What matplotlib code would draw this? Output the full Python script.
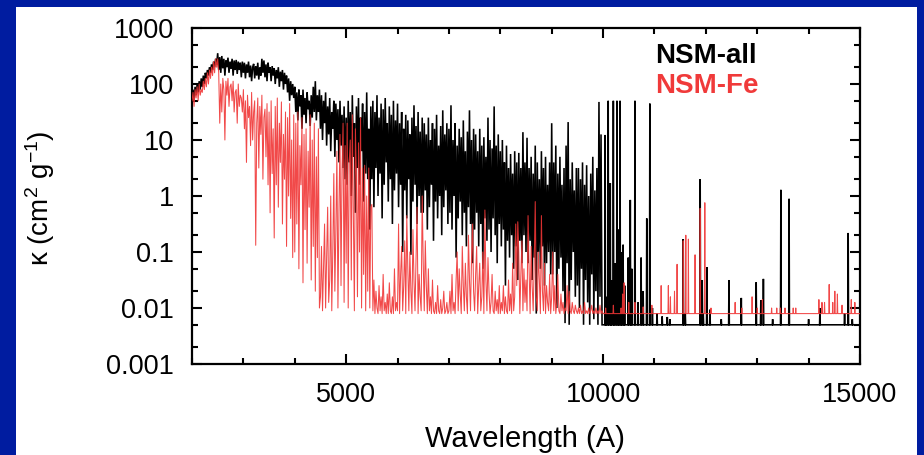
import numpy as np
import matplotlib
matplotlib.use("Agg")
import matplotlib.pyplot as plt
from matplotlib.ticker import FixedLocator, LogLocator, NullFormatter, FixedFormatter
from matplotlib.patches import Rectangle

plt.rcParams['font.family'] = ['Liberation Sans', 'DejaVu Sans']
plt.rcParams['mathtext.fontset'] = 'custom'
plt.rcParams['mathtext.rm'] = 'Liberation Sans'
plt.rcParams['mathtext.it'] = 'Liberation Sans:italic'
plt.rcParams['mathtext.default'] = 'regular'

# ---------------- data (log10 of opacity, cm^2/g) ----------------
grid_start = 2000      # Angstrom, first sample of the dense part
grid_step = 20         # Angstrom between samples

# NSM-all, dense part 2000-10000 A (blocks of 500 A)
all_b1 = [1.75,1.9,1.7,1.95,1.8,2.0,1.85,2.05,1.9,2.1,1.95,2.15,2.0,2.2,2.1,2.25,2.15,2.3,2.2,2.35,2.25,2.4,2.3,2.45,2.35]
all_b2 = [2.55,2.25,2.48,2.2,2.5,2.28,2.45,2.15,2.42,2.3,2.47,2.2,2.4,2.27,2.45,2.15,2.42,2.25,2.43,2.18,2.4,2.25,2.38,2.12,2.4]
all_b3 = [2.2,2.38,2.1,2.35,2.2,2.4,2.12,2.33,2.05,2.3,2.36,2.1,2.32,2.15,2.38,2.08,2.3,2.15,2.45,2.2,2.42,2.12,2.35,2.05,2.38]
all_b4 = [2.2,2.3,2.05,2.32,2.15,2.28,2.0,2.25,2.1,2.3,1.95,2.22,2.05,2.25,1.9,2.2,2.0,2.15,1.85,2.1,1.7,2.05,1.8,2.0,1.75]
all_b5 = [1.95,1.5,1.85,1.35,1.9,1.6,1.8,1.2,1.9,1.45,1.75,1.3,1.85,1.55,1.7,1.25,1.8,1.4,1.95,1.5,2.05,1.35,1.8,1.5,1.9]
all_b6 = [1.2,1.8,1.0,1.7,1.3,1.85,0.9,1.6,1.1,1.75,0.8,1.5,1.2,1.7,0.7,1.65,1.0,1.55,0.6,1.7,0.9,1.45,0.5,1.6,0.3]
all_b7 = [1.4,0.2,1.7,0.6,1.5,0.0,1.8,0.7,1.3,-0.3,1.6,0.5,1.75,0.2,1.4,0.8,1.65,-0.1,1.5,0.4,1.85,0.3,1.2,-0.6,1.6]
all_b8 = [0.3,1.7,-0.2,1.5,0.5,1.8,0.0,1.4,0.4,1.65,-0.4,1.55,0.2,1.75,0.6,1.3,-0.1,1.6,0.3,1.45,-0.5,1.7,0.1,1.35,0.4]
all_b9 = [1.65,-0.2,1.3,0.2,1.5,-1.0,1.2,0.1,1.45,-0.4,1.35,0.3,1.1,-1.05,1.4,-0.1,1.62,0.2,1.25,-0.5,1.5,0.0,1.15,-0.3,1.4]
all_b10 = [-0.3,1.3,0.1,1.1,-0.6,1.4,-0.2,1.0,0.2,1.3,-0.8,1.2,-0.1,1.45,-0.4,0.9,0.0,1.25,-0.7,1.53,-0.2,1.1,0.1,1.3,-0.5]
all_b11 = [1.2,-0.3,1.62,-0.6,1.0,0.0,1.3,-1.1,0.9,-0.4,1.2,-0.1,1.05,-0.7,1.35,-0.3,0.8,-0.9,1.15,-0.2,1.53,-0.5,1.0,-1.2,1.2]
all_b12 = [-0.6,1.1,-0.3,0.8,-0.9,1.2,-0.5,0.9,-1.3,1.05,-0.4,0.7,-0.8,1.4,-0.6,1.0,-1.0,0.85,-0.4,1.6,-0.7,0.9,-1.2,1.1,-0.5]
all_b13 = [0.8,-0.9,1.0,-0.6,0.6,-1.6,0.9,-0.8,0.5,-1.1,0.75,-0.7,0.4,-1.3,0.8,-0.9,0.6,-1.5,0.77,-0.8,0.5,-1.2,1.14,-0.7,0.6]
all_b14 = [-1.0,1.04,-1.2,0.5,-0.8,0.7,-1.5,0.4,-1.1,0.9,-2.1,0.6,-1.0,0.3,-1.3,0.8,-0.9,0.5,-1.6,0.7,-1.2,0.2,-1.0,0.6,-1.4]
all_b15 = [1.3,-1.4,0.6,-1.0,0.9,-2.0,0.4,-1.3,0.7,-1.1,0.2,-1.7,0.5,-2.27,0.9,-1.2,1.32,-2.3,0.3,-1.5,0.6,-1.0,0.1,-1.8,0.5]
all_b16 = [-1.6,0.5,-2.0,0.3,-1.3,0.6,-2.3,0.2,-1.5,0.55,-1.9,0.0,-2.3,0.4,-1.4,0.7,-2.2,0.1,-1.7,0.5,-2.3,1.68,-1.8,1.1,-2.3]
all_end = [-2.3]

# NSM-Fe, dense part 2000-10000 A
fe_b1 = [1.7,1.85,1.6,1.9,1.75,1.95,1.7,2.0,1.8,1.9,1.85,2.05,1.9,2.1,1.95,2.2,2.0,2.25,2.1,2.3,2.15,2.4,2.2,2.45,2.3]
fe_b2 = [2.45,2.2,1.3,2.0,1.5,2.1,1.9,1.0,2.05,1.8,2.1,1.6,1.95,2.0,1.7,2.05,1.5,1.85,1.9,1.3,2.0,1.6,1.8,1.75,1.5]
fe_b3 = [1.9,1.2,1.7,0.6,1.8,1.4,1.6,0.9,1.85,1.0,1.5,1.7,-0.88,1.3,1.75,0.5,1.6,1.1,1.8,0.3,1.4,1.55,0.7,1.65,0.2]
fe_b4 = [1.5,-0.3,1.7,0.4,1.2,-0.75,1.6,0.2,1.75,-0.2,1.3,0.6,1.68,-0.5,1.1,0.3,1.5,-0.9,1.4,0.0,1.65,-0.4,1.0,-1.1,1.45]
fe_b5 = [-1.0,1.3,-0.5,1.5,-1.3,0.9,0.2,1.4,-1.55,1.1,-0.6,1.2,-1.2,0.8,-0.2,1.45,-1.5,1.0,-0.9,1.3,-1.7,0.7,-1.1,1.2,-2.0]
fe_b6 = [-1.8,-0.9,-2.05,-1.3,-0.5,-2.0,-1.1,-0.2,-1.9,-1.5,0.0,-2.05,-1.0,0.4,-1.7,-0.6,0.8,-2.0,-0.3,1.1,-1.6,0.5,1.3,-1.9,0.9]
fe_b7 = [-1.2,1.3,-2.0,0.6,1.0,-1.5,1.45,-0.4,-2.05,1.2,0.3,-1.8,0.95,-1.0,1.4,-2.0,0.5,-1.4,0.55,-2.05,0.0,-1.7,0.5,-2.0,-0.2]
fe_b8 = [-0.15,-2.05,-1.5,-2.1,-1.7,-2.0,-2.1,-1.6,-2.05,-1.8,-2.1,-1.4,-2.05,-1.9,-2.1,-1.75,-2.1,-1.55,-2.05,-2.1,-1.8,-2.1,-1.3,-2.05,-1.9]
fe_b9 = [-2.05,-0.5,-2.1,-1.4,-0.9,-2.05,-1.6,-0.8,-2.1,-0.35,-1.3,-2.05,-1.0,-1.7,-2.1,-0.6,-1.5,-2.05,-1.1,-0.2,-2.1,-1.4,-1.8,-2.05,0.0]
fe_b10 = [-1.2,-2.05,-0.8,-1.6,-2.1,-1.3,-2.05,-1.8,-2.1,-1.5,-2.05,-2.1,-1.9,-2.1,-1.6,-2.05,-2.1,-1.85,-2.1,-2.0,-1.7,-2.1,-2.05,-1.9,-2.1]
fe_b11 = [-2.05,-1.7,-2.1,-1.4,-2.05,-1.9,-2.1,-1.5,-1.0,-2.05,-1.3,-1.75,-2.1,-0.9,-1.6,-2.05,-1.2,-1.8,-2.1,-0.7,-1.5,-2.05,-1.1,-0.5,-1.7]
fe_b12 = [-2.05,-1.4,-0.9,-2.1,-1.6,-1.2,-2.05,-1.8,-1.0,-2.1,-0.25,-1.5,-2.05,-1.1,-1.7,-2.1,-1.9,-1.4,-2.05,-2.1,-1.7,-2.05,-1.85,-2.1,-1.6]
fe_b13 = [-2.1,-1.9,-2.05,-1.6,-2.1,-1.8,-2.05,-2.1,-1.5,-2.05,-1.75,-2.1,-1.2,-2.05,-1.8,-0.5,-1.6,-0.46,-1.0,-2.1,-1.4,-0.8,-2.05,-1.3,-1.9]
fe_b14 = [-1.5,-2.05,-0.35,-1.3,-2.1,-0.9,-1.6,-2.05,-1.2,-0.1,-1.8,-2.05,-1.0,-1.5,-2.1,-0.35,-1.7,-2.05,-1.2,-2.1,-1.6,-1.9,-2.05,-1.4,-2.1]
fe_b15 = [-1.8,-1.0,-2.05,-1.6,-2.1,-1.9,-1.4,-2.05,-2.1,-1.75,-2.05,-1.9,-2.1,-2.0,-2.05,-1.6,-2.1,-1.7,-2.05,-2.1,-1.9,-2.05,-2.1,-1.95,-2.05]
fe_b16 = [-2.1,-2.0,-2.1,-1.95,-2.1,-2.05,-2.1,-1.9,-2.1,-2.05,-2.1,-2.0,-2.1,-2.05,-1.95,-2.1,-2.05,-2.1,-2.0,-2.1,-2.05,-2.1,-1.95,-2.1,-2.05]
fe_end = [-2.1]

# sparse part 10000-15000 A: continuum level and isolated lines
all_base_log = -2.3
fe_base_log = -2.1
sparse_end = 15000

all_line_wl = [10040,10060,10100,10140,10160,10200,10230,10270,10300,10330,10360,10390,10420,10490,10530,10560,
               10620,10680,10740,10780,10850,10910,10960,11050,11150,11250,11300,11560,11600,11890,11930,11950,
               12020,12080,12300,12450,12690,12980,13070,13120,13300,13460,13620,14000,14220,14700,14770,14850]
all_line_log = [1.09,-1.8,1.7,0.23,-1.5,1.7,-1.2,1.7,-0.6,1.7,-1.0,-0.87,-1.6,-1.1,-0.07,-1.3,
                1.7,-1.9,-1.1,-1.7,-0.4,1.65,-2.0,-2.1,-2.15,-2.16,-2.2,-0.77,-2.1,0.30,-1.5,-2.1,
                -1.27,-2.03,-2.2,-1.5,-1.82,-1.54,-1.86,-1.48,-2.2,0.11,-0.05,-2.2,-2.0,-2.1,-0.66,-2.2]

fe_line_wl = [10050,10200,10350,10380,10410,10500,10620,10780,10950,11130,11270,11310,11390,11440,11560,11610,
              11660,11790,11890,11980,12100,12570,12700,12900,13000,13100,13280,13380,13450,13540,13700,13750,
              14200,14260,14310,14400,14470,14510,14560,14650,14830,14900]
fe_line_log = [-2.0,-1.95,-2.0,-1.75,-1.55,-1.9,-1.9,-1.98,-1.95,-1.6,-1.6,-1.8,-1.7,-1.22,-0.8,-0.7,
               -0.77,-1.05,-0.22,-0.12,-2.0,-1.9,-2.0,-1.8,-2.0,-1.85,-2.0,-2.0,-2.0,-2.0,-2.0,-2.0,
               -1.85,-1.9,-1.9,-1.58,-1.9,-1.7,-1.75,-1.95,-1.85,-1.9]

x_ticks = [5000, 10000, 15000]
y_ticks = [1e-3, 1e-2, 1e-1, 1, 10, 100, 1000]
y_tick_labels = ['0.001', '0.01', '0.1', '1', '10', '100', '1000']

# ---------------- assemble series ----------------
all_dense = (all_b1 + all_b2 + all_b3 + all_b4 + all_b5 + all_b6 + all_b7 + all_b8 + all_b9 + all_b10 +
             all_b11 + all_b12 + all_b13 + all_b14 + all_b15 + all_b16 + all_end)
fe_dense = (fe_b1 + fe_b2 + fe_b3 + fe_b4 + fe_b5 + fe_b6 + fe_b7 + fe_b8 + fe_b9 + fe_b10 +
            fe_b11 + fe_b12 + fe_b13 + fe_b14 + fe_b15 + fe_b16 + fe_end)
assert len(all_dense) == 401 and len(fe_dense) == 401


def build(dense, base, lw_list, lv_list, half=7):
    wl = list(grid_start + grid_step * np.arange(len(dense)))
    val = list(dense)
    for w, v in sorted(zip(lw_list, lv_list)):
        wl += [w - half, w, w + half]
        val += [base, v, base]
    wl.append(sparse_end)
    val.append(base)
    return np.array(wl, dtype=float), 10.0 ** np.array(val)


wl_all, k_all = build(all_dense, all_base_log, all_line_wl, all_line_log)
wl_fe, k_fe = build(fe_dense, fe_base_log, fe_line_wl, fe_line_log)

# ---------------- figure ----------------
fig = plt.figure(figsize=(9.24, 4.55), dpi=100)
fig.patch.set_facecolor('#001ca0')
fig.patches.append(Rectangle((16 / 924, 0), (917 - 16) / 924, 1 - 7 / 455,
                             transform=fig.transFigure, facecolor='white', edgecolor='none', zorder=-10))

ax = fig.add_axes([192 / 924, 1 - 364 / 455, 668 / 924, 336 / 455])
ax.set_zorder(5)
ax.plot(wl_all, k_all, color='black', lw=1.15, solid_joinstyle='miter', zorder=2)
ax.plot(wl_fe, k_fe, color='#f03535', lw=0.75, alpha=0.9, zorder=3)

ax.set_yscale('log')
ax.set_xlim(2000, 15000)
ax.set_ylim(1e-3, 1e3)

ax.xaxis.set_major_locator(FixedLocator(x_ticks))
ax.xaxis.set_minor_locator(FixedLocator(np.arange(2000, 15001, 1000)))
ax.yaxis.set_major_locator(FixedLocator(y_ticks))
ax.yaxis.set_major_formatter(FixedFormatter(y_tick_labels))
ax.yaxis.set_minor_locator(LogLocator(base=10, subs=(2.0, 5.0)))
ax.yaxis.set_minor_formatter(NullFormatter())

ax.tick_params(which='both', direction='in', top=True, right=True, width=1.5, colors='black')
ax.tick_params(which='major', length=7.5, labelsize=19.5, pad=13)
ax.tick_params(which='minor', length=4)
for s in ax.spines.values():
    s.set_linewidth(1.6)

fig.text(525 / 924, 1 - 447 / 455, 'Wavelength (A)', ha='center', va='baseline', fontsize=21, zorder=6)
fig.text(40 / 924, 1 - 198 / 455, r'κ (cm$^{2}$ g$^{-1}$)', ha='center', va='center',
         rotation=90, fontsize=20, zorder=6)

ax.text(0.693, 0.896, 'NSM-all', transform=ax.transAxes, fontsize=20, fontweight='bold',
        color='black', ha='left', va='baseline')
ax.text(0.693, 0.807, 'NSM-Fe', transform=ax.transAxes, fontsize=20, fontweight='bold',
        color='#f03a3a', ha='left', va='baseline')

fig.savefig('out.png', dpi=100, facecolor=fig.get_facecolor())
